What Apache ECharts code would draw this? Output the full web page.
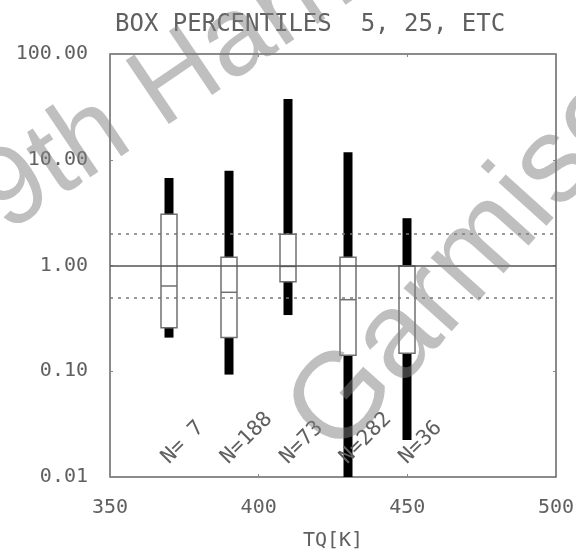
<!DOCTYPE html>
<html>
	<head>
		<meta charset="utf-8">
		<title>Box percentiles</title>
		<style>
			html, body { margin: 0; padding: 0; background: #fff; }
		</style>
	</head>
	<body>
		<!-- chart area -->
		<div id="container" style="width: 576px;height:549px;"></div>
	</body>
	<script src="https://cdn.jsdelivr.net/npm/echarts@6/dist/echarts.min.js"></script>
	<script type="text/javascript">
		'use strict'
		// box positions (TQ in K) and sample sizes
		var categories = [370, 390, 410, 430, 450];
		var counts = [7, 188, 73, 282, 36];
		// percentiles 5, 25, 50, 75, 95
		var p5  = [0.208, 0.093, 0.34, 0.01, 0.0224];
		var p25 = [0.258, 0.208, 0.703, 0.142, 0.148];
		var p50 = [0.64, 0.558, 0.98, 0.475, 0.99];
		var p75 = [3.05, 1.20, 1.97, 1.195, 0.99];
		var p95 = [6.72, 7.88, 37.5, 11.76, 2.80];
		// reference levels
		var refSolid = [1];
		var refDashed = [2, 0.5];
		// axis ticks
		var xTicks = [350, 400, 450, 500];

		var MONO = '"DejaVu Sans Mono", "Liberation Mono", monospace';
		var TEXT = '#606060';
		var boxData = categories.map(function (x, i) {
			return [x, p5[i], p25[i], p50[i], p75[i], p95[i], counts[i]];
		});

		function renderBox(params, api) {
			var x = api.value(0);
			var w5 = api.coord([x, api.value(1)]);
			var q1 = api.coord([x, api.value(2)]);
			var md = api.coord([x, api.value(3)]);
			var q3 = api.coord([x, api.value(4)]);
			var w95 = api.coord([x, api.value(5)]);
			var cx = Math.round(q1[0]);
			var bw = 16, ww = 9;
			return {
				type: 'group',
				children: [
					// thick whiskers
					{ type: 'rect', shape: { x: cx - ww / 2, y: q1[1], width: ww, height: w5[1] - q1[1] },
					  style: { fill: '#000' } },
					{ type: 'rect', shape: { x: cx - ww / 2, y: w95[1], width: ww, height: q3[1] - w95[1] },
					  style: { fill: '#000' } },
					// box
					{ type: 'rect', shape: { x: cx - bw / 2, y: q3[1], width: bw, height: q1[1] - q3[1] },
					  style: { fill: '#fff', stroke: '#707070', lineWidth: 1.5 } },
					// median
					{ type: 'line', shape: { x1: cx - bw / 2, y1: md[1], x2: cx + bw / 2, y2: md[1] },
					  style: { stroke: '#707070', lineWidth: 1.5 } }
				]
			};
		}

		function renderLabel(params, api) {
			var x = api.value(0);
			var pt = api.coord([x, 1]);
			var bottom = params.coordSys.y + params.coordSys.height;
			var n = String(api.value(6));
			if (n.length < 2) n = ' ' + n;
			return {
				type: 'text',
				x: pt[0] + 3,
				y: bottom - 9,
				rotation: Math.PI / 4,
				style: {
					text: 'N=' + n,
					fill: TEXT,
					font: '21px ' + MONO,
					align: 'left',
					verticalAlign: 'bottom'
				}
			};
		}

		var myCharts = echarts.init(document.getElementById('container'));
		var option = {
			animation: false,
			backgroundColor: '#fff',
			title: {
				text: 'BOX PERCENTILES  5, 25, ETC',
				left: 110,
				top: 8,
				textStyle: { color: TEXT, fontSize: 24, fontWeight: 'normal', fontFamily: MONO }
			},
			grid: {
				show: true,
				left: 110, right: 20, top: 54, bottom: 72,
				outerBoundsMode: 'none',
				containLabel: false,
				borderColor: '#666', borderWidth: 1.5
			},
			xAxis: [{
				type: 'value', min: 350, max: 500, interval: 50,
				name: 'TQ[K]', nameLocation: 'middle', nameGap: 54,
				nameTextStyle: { color: TEXT, fontSize: 20, fontFamily: MONO },
				axisLine: { show: false },
				axisTick: { show: true, inside: true, length: 3, lineStyle: { color: '#888' } },
				splitLine: { show: false },
				axisLabel: {
					color: TEXT, fontSize: 20, fontFamily: MONO, margin: 21,
					customValues: xTicks, showMaxLabel: true
				}
			}, {
				type: 'value', min: 350, max: 500, interval: 50, position: 'top',
				axisLine: { show: false },
				axisTick: { show: true, inside: true, length: 3, lineStyle: { color: '#888' } },
				splitLine: { show: false },
				axisLabel: { show: false }
			}],
			yAxis: [{
				type: 'log', logBase: 10, min: 0.01, max: 100,
				axisLine: { show: false },
				axisTick: { show: true, inside: true, length: 3, lineStyle: { color: '#888' } },
				splitLine: { show: false },
				axisLabel: {
					color: TEXT, fontSize: 20, fontFamily: MONO, margin: 22,
					formatter: function (v) { return Number(v).toFixed(2); }
				}
			}, {
				type: 'log', logBase: 10, min: 0.01, max: 100, position: 'right',
				axisLine: { show: false },
				axisTick: { show: true, inside: true, length: 3, lineStyle: { color: '#888' } },
				splitLine: { show: false },
				axisLabel: { show: false }
			}],
			graphic: [{
				type: 'text', x: -11, y: 208, rotation: 34 * Math.PI / 180, z: 100,
				style: { text: '9th Harmo', font: '112px "Liberation Sans", Arial, sans-serif',
					fill: 'rgba(128,128,128,0.5)', align: 'left', verticalAlign: 'middle' }
			}, {
				type: 'text', x: 312, y: 436, rotation: 48 * Math.PI / 180, z: 100,
				style: { text: 'Garmisch', font: '122px "Liberation Sans", Arial, sans-serif',
					fill: 'rgba(128,128,128,0.5)', align: 'left', verticalAlign: 'middle' }
			}],
			series: [{
				type: 'line',
				data: [],
				markLine: {
					silent: true,
					symbol: 'none',
					label: { show: false },
					data: refSolid.map(function (v) {
						return { yAxis: v, lineStyle: { color: '#555', width: 1.5, type: 'solid' } };
					}).concat(refDashed.map(function (v) {
						return { yAxis: v, lineStyle: { color: '#777', width: 1.5, type: [3, 5] } };
					}))
				}
			}, {
				type: 'custom',
				renderItem: renderBox,
				clip: true,
				encode: { x: 0, y: [1, 2, 3, 4, 5] },
				data: boxData
			}, {
				type: 'custom',
				renderItem: renderLabel,
				encode: { x: 0, y: 4 },
				data: boxData
			}]
		};
		myCharts.setOption(option);
	</script>
</html>
